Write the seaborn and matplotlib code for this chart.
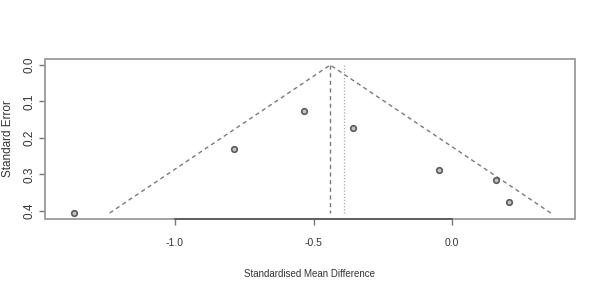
import matplotlib
matplotlib.use("Agg")
import matplotlib.pyplot as plt
import seaborn as sns
import pandas as pd
from matplotlib.patches import Rectangle

# Data
smd = [-1.365, -0.786, -0.535, -0.357, -0.049, 0.158, 0.205]
se = [0.406, 0.231, 0.126, 0.172, 0.287, 0.315, 0.377]
fixed_effect = -0.440
random_effect = -0.391
x_ticks = [-1.0, -0.5, 0.0]
x_tick_labels = ["-1.0", "-0.5", "0.0"]
y_ticks = [0.0, 0.1, 0.2, 0.3, 0.4]
y_tick_labels = ["0.0", "0.1", "0.2", "0.3", "0.4"]

sns.set_style("white")
plt.rcParams['font.family'] = ['Liberation Sans', 'DejaVu Sans']

fig = plt.figure(figsize=(6.01, 2.96), dpi=100)
ax = fig.add_axes([45/601, 1-219/296, 530/601, 160/296])

df = pd.DataFrame({"smd": smd, "se": se})
se_max = max(se)

# funnel
funnel = pd.DataFrame({
    "x": [fixed_effect - 1.96*se_max, fixed_effect, fixed_effect + 1.96*se_max],
    "y": [se_max, 0.0, se_max],
})
ax.plot(funnel["x"], funnel["y"], color="#7a7a7a", lw=1.0, ls=(0, (3, 2.5)))
ax.plot([fixed_effect, fixed_effect], [0, se_max], color="#7a7a7a", lw=1.0, ls=(0, (3, 2.5)))
ax.plot([random_effect, random_effect], [0, se_max], color="#aaaaaa", lw=0.9, ls=(0, (1, 1.5)))

sns.scatterplot(data=df, x="smd", y="se", ax=ax, marker="o", s=16,
                facecolor="#c4c4c4", edgecolor="#5a5a5a", linewidth=1.2, zorder=3)

ax.set_xlim(-1.469, 0.443)
ax.set_ylim(0.4224, -0.0164)

for s in ax.spines.values():
    s.set_visible(False)
ax.add_patch(Rectangle((0, 0), 1, 1, transform=ax.transAxes, fill=False,
                       edgecolor="#9a9a9a", lw=1.3, clip_on=False, zorder=5))
ax.spines['bottom'].set_visible(True)
ax.spines['bottom'].set_bounds(-1.0, 0.0)
ax.spines['bottom'].set_color("#555555")
ax.spines['bottom'].set_linewidth(1.2)
ax.spines['bottom'].set_zorder(6)

ax.set_xticks(x_ticks)
ax.set_xticklabels(x_tick_labels, fontsize=7.5)
ax.set_yticks(y_ticks)
ax.set_yticklabels(y_tick_labels, rotation=90, va="center", fontsize=8.5)
ax.tick_params(axis="both", direction="out", length=4, width=1, color="#777777",
               labelcolor="#333333")
ax.tick_params(axis="x", pad=10, bottom=True)
ax.tick_params(axis="y", pad=3, left=True)

ax.set_xlabel("Standardised Mean Difference", fontsize=7, color="#333333",
              labelpad=15)
ax.set_ylabel("Standard Error", fontsize=8.5, color="#333333")
ax.yaxis.set_label_coords(-0.059, 0.5)

fig.savefig("out.png", dpi=100)
